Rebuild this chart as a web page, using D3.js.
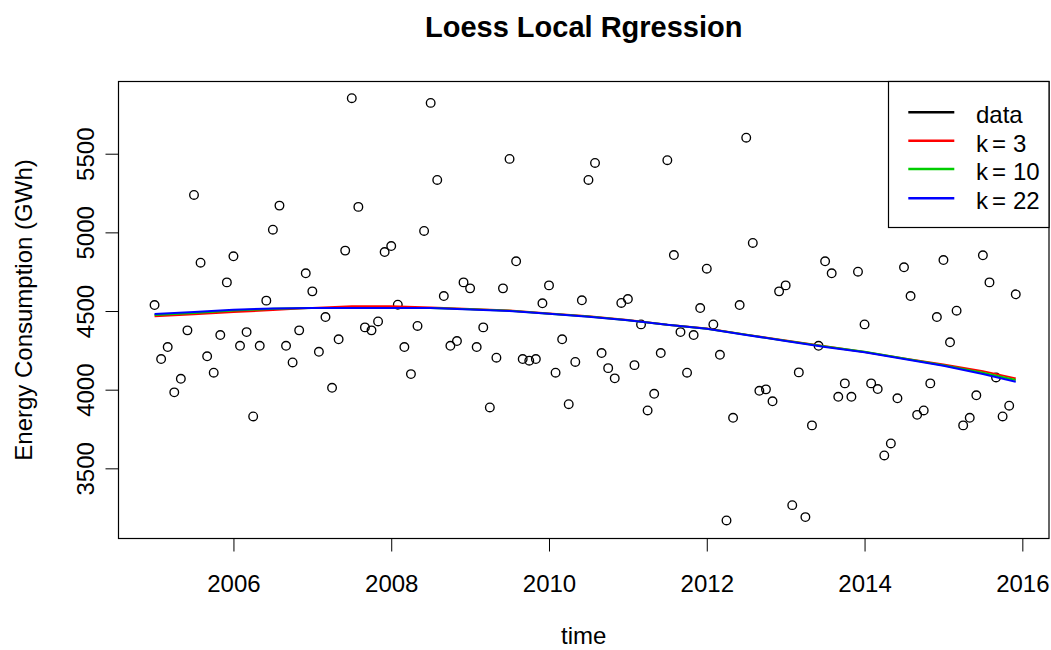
<!DOCTYPE html>
<html>
<head>
<meta charset="utf-8">
<script src="https://cdn.jsdelivr.net/npm/d3@7"></script>
<style>
  html, body { margin: 0; padding: 0; background: #fff; }
  svg { display: block; font-family: "Liberation Sans", Arial, Helvetica, sans-serif; }
</style>
</head>
<body>
<svg id="chart" width="1051" height="650"></svg>
<script>
// Monthly energy consumption, January 2005 to December 2015 (GWh)
const startYear = 2005;
const consumption = [
  4538, 4195, 4271, 3983, 4069, 4377, 5238, 4807, 4212, 4108, 4347, 4682,
  4848, 4279, 4366, 3830, 4279, 4566, 5017, 5170, 4279, 4173, 4377, 4740,
  4625, 4241, 4462, 4012, 4320, 4884, 5853, 5162, 4396, 4377, 4434, 4875,
  4913, 4540, 4271, 4099, 4405, 5009, 5823, 5333, 4595, 4279, 4309, 4682,
  4644, 4271, 4396, 3887, 4203, 4644, 5467, 4816, 4195, 4184, 4195, 4549,
  4663, 4108, 4320, 3908, 4176, 4568, 5333, 5441, 4233, 4137, 4072, 4551,
  4576, 4156, 4415, 3868, 3974, 4233, 5459, 4856, 4366, 4108, 4347, 4519,
  4769, 4415, 4222, 3169, 3821, 4538, 5602, 4933, 3993, 4002, 3926, 4625,
  4663, 3266, 4110, 3190, 3773, 4279, 4816, 4740, 3955, 4040, 3955, 4750,
  4415, 4040, 4004, 3582, 3658, 3945, 4778, 4595, 3840, 3868, 4040, 4462,
  4824, 4301, 4502, 3773, 3821, 3964, 4854, 4682, 4078, 3830, 3898, 4606
];

// Loess fits sampled at month offsets from January 2005
const fitMonths = [0, 6, 12, 18, 24, 30, 36, 42, 48, 54, 60, 66, 72, 78, 84, 90, 96, 102, 108, 114, 120, 126, 131];
const fitK3  = [4466, 4480, 4494, 4506, 4520, 4530, 4530, 4522, 4513, 4503, 4484, 4466, 4443, 4413, 4389, 4350, 4312, 4276, 4240, 4199, 4160, 4118, 4072];
const fitK10 = [4474, 4488, 4503, 4514, 4519, 4520, 4520, 4519, 4511, 4501, 4483, 4465, 4442, 4412, 4388, 4349, 4311, 4274, 4241, 4198, 4155, 4108, 4061];
const fitK22 = [4481, 4494, 4508, 4516, 4519, 4519, 4519, 4519, 4510, 4500, 4482, 4464, 4442, 4412, 4387, 4348, 4310, 4272, 4238, 4195, 4152, 4100, 4050];

const xTicks = [2006, 2008, 2010, 2012, 2014, 2016];
const yTicks = [3500, 4000, 4500, 5000, 5500];

const legendLabels = ["data", "k = 3", "k = 10", "k = 22"];
const legendColors = ["#000000", "#FF0000", "#00CD00", "#0000FF"];

(function draw() {
  const svg = d3.select("#chart");
  const pLeft = 118.5, pRight = 1049, pTop = 81.5, pBottom = 538.5;

  const x = d3.scaleLinear().domain([2004.543, 2016.338]).range([pLeft, pRight]);
  const y = d3.scaleLinear().domain([3054, 5959]).range([pBottom, pTop]);

  const tOf = i => startYear + i / 12;
  const fontFamily = "Liberation Sans, Arial, Helvetica, sans-serif";

  // Title and axis titles
  svg.append("text")
    .attr("x", (pLeft + pRight) / 2).attr("y", 36.5)
    .attr("text-anchor", "middle")
    .attr("font-size", 29).attr("font-weight", "bold")
    .text("Loess Local Rgression");

  svg.append("text")
    .attr("x", (pLeft + pRight) / 2).attr("y", 644)
    .attr("text-anchor", "middle")
    .attr("font-size", 24)
    .text("time");

  svg.append("text")
    .attr("transform", `translate(32,${(pTop + pBottom) / 2}) rotate(-90)`)
    .attr("text-anchor", "middle")
    .attr("font-size", 24)
    .text("Energy Consumption (GWh)");

  // Axes
  const xAxis = svg.append("g")
    .attr("transform", `translate(0,${pBottom})`)
    .call(d3.axisBottom(x).tickValues(xTicks).tickFormat(d3.format("d")).tickSize(13));
  xAxis.select(".domain").remove();
  xAxis.selectAll("line").attr("stroke", "#000").attr("stroke-width", 1);
  xAxis.selectAll("text")
    .attr("y", 53.5).attr("dy", 0)
    .attr("font-size", 24).attr("fill", "#000")
    .attr("font-family", fontFamily);

  const yAxis = svg.append("g")
    .attr("transform", `translate(${pLeft},0)`)
    .call(d3.axisLeft(y).tickValues(yTicks).tickFormat(d3.format("d")).tickSize(13));
  yAxis.select(".domain").remove();
  yAxis.selectAll("line").attr("stroke", "#000").attr("stroke-width", 1);
  yAxis.selectAll("text")
    .attr("x", 0).attr("y", -25).attr("dy", 0)
    .attr("transform", "rotate(-90)")
    .attr("text-anchor", "middle")
    .attr("font-size", 24).attr("fill", "#000")
    .attr("font-family", fontFamily);

  // Plot frame
  svg.append("rect")
    .attr("x", pLeft).attr("y", pTop)
    .attr("width", pRight - pLeft).attr("height", pBottom - pTop)
    .attr("fill", "none").attr("stroke", "#000").attr("stroke-width", 1.2);

  // Data points
  svg.append("g")
    .selectAll("circle")
    .data(consumption)
    .join("circle")
    .attr("cx", (d, i) => x(tOf(i)))
    .attr("cy", d => y(d))
    .attr("r", 4.3)
    .attr("fill", "none")
    .attr("stroke", "#000")
    .attr("stroke-width", 1.35);

  // Loess fits
  const line = d3.line()
    .x(d => x(tOf(d[0])))
    .y(d => y(d[1]));

  [[fitK3, legendColors[1]], [fitK10, legendColors[2]], [fitK22, legendColors[3]]].forEach(([vals, col]) => {
    svg.append("path")
      .datum(fitMonths.map((m, i) => [m, vals[i]]))
      .attr("d", line)
      .attr("fill", "none")
      .attr("stroke", col)
      .attr("stroke-width", 2);
  });

  // Legend
  const lgX = 888.5, lgY = pTop, lgW = pRight - 888.5, lgH = 146;
  svg.append("rect")
    .attr("x", lgX).attr("y", lgY).attr("width", lgW).attr("height", lgH)
    .attr("fill", "#fff").attr("stroke", "#000").attr("stroke-width", 1.2);

  const rowY = [112.3, 140.7, 169, 198.3];
  legendLabels.forEach((lab, i) => {
    svg.append("line")
      .attr("x1", 908.3).attr("x2", 954.3)
      .attr("y1", rowY[i]).attr("y2", rowY[i])
      .attr("stroke", legendColors[i]).attr("stroke-width", 2.4);
    const t = svg.append("text")
      .attr("x", 976).attr("y", rowY[i] + 11)
      .attr("font-size", 24);
    if (i === 0) {
      t.text(lab);
    } else {
      const parts = lab.split(" = ");
      t.append("tspan").text(parts[0]);
      t.append("tspan").attr("dx", 4).text("=");
      t.append("tspan").attr("dx", 7).text(parts[1]);
    }
  });
})();
</script>
</body>
</html>
